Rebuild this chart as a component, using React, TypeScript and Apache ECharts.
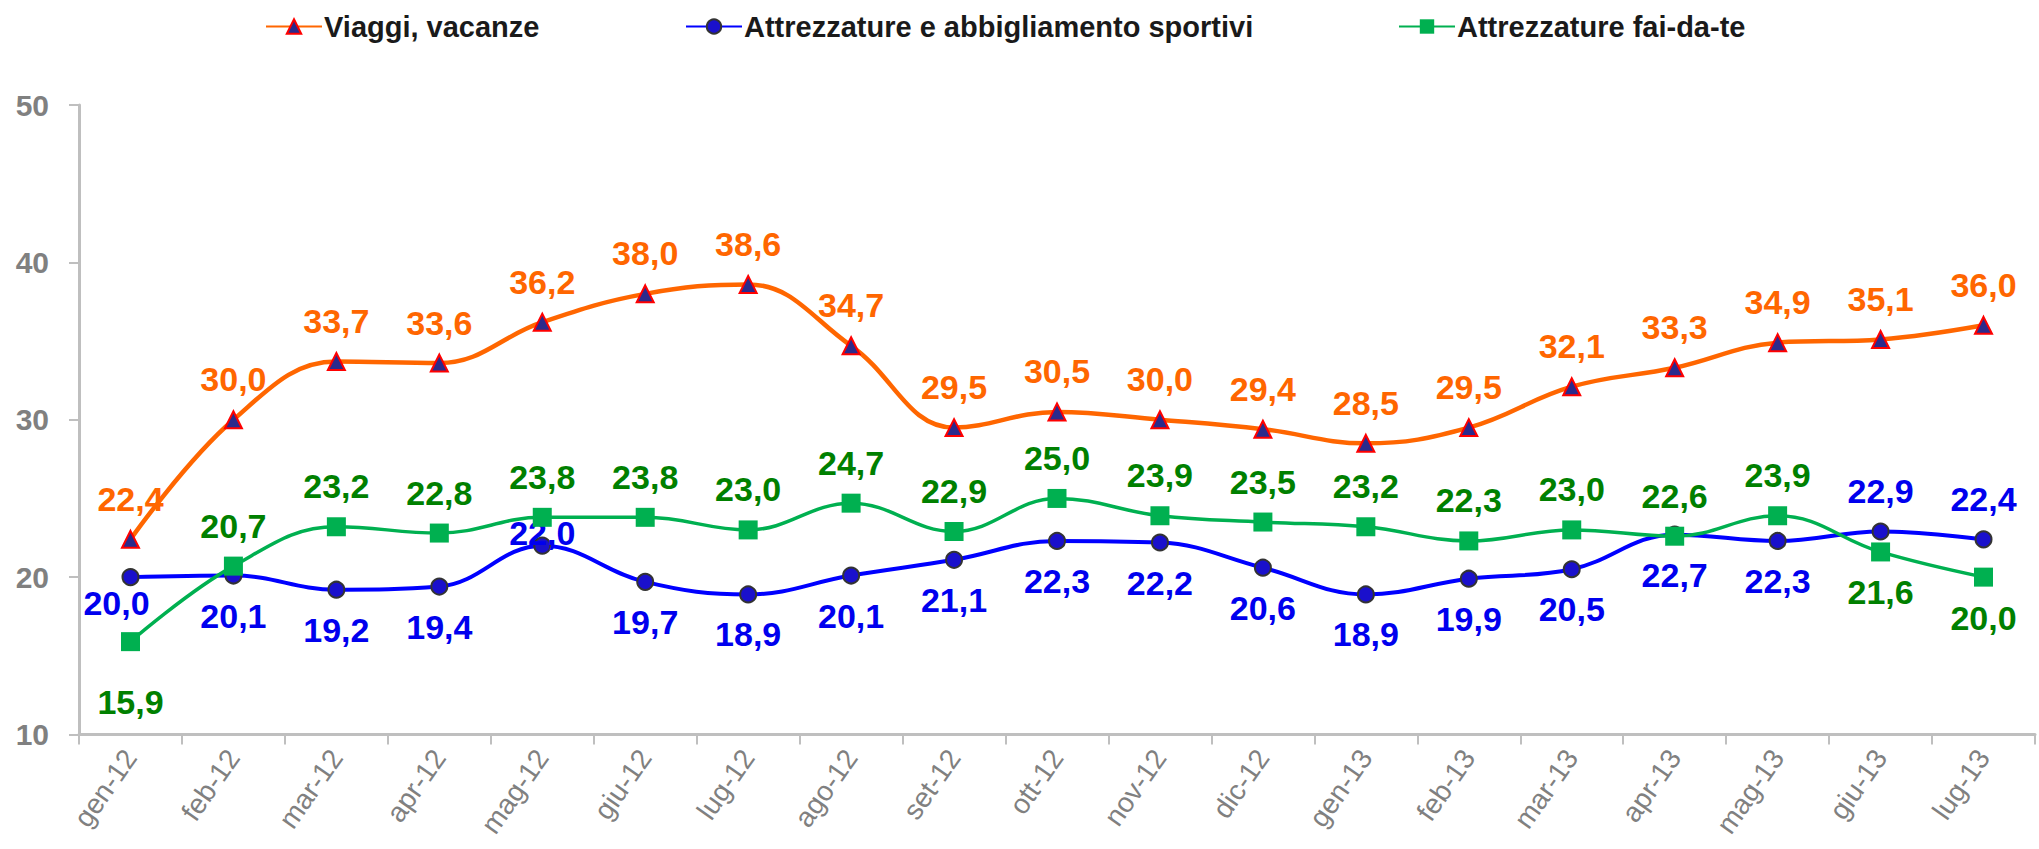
import React, { useEffect, useRef } from "react";
import * as echarts from "echarts";

const categories = [
  "gen-12", "feb-12", "mar-12", "apr-12", "mag-12", "giu-12", "lug-12", "ago-12", "set-12", "ott-12",
  "nov-12", "dic-12", "gen-13", "feb-13", "mar-13", "apr-13", "mag-13", "giu-13", "lug-13",
];
const viaggi = [22.4, 30.0, 33.7, 33.6, 36.2, 38.0, 38.6, 34.7, 29.5, 30.5, 30.0, 29.4, 28.5, 29.5, 32.1, 33.3, 34.9, 35.1, 36.0];
const sportivi = [20.0, 20.1, 19.2, 19.4, 22.0, 19.7, 18.9, 20.1, 21.1, 22.3, 22.2, 20.6, 18.9, 19.9, 20.5, 22.7, 22.3, 22.9, 22.4];
const faidate = [15.9, 20.7, 23.2, 22.8, 23.8, 23.8, 23.0, 24.7, 22.9, 25.0, 23.9, 23.5, 23.2, 22.3, 23.0, 22.6, 23.9, 21.6, 20.0];
const seriesNames = ["Viaggi, vacanze", "Attrezzature e abbigliamento sportivi", "Attrezzature fai-da-te"];

// label placement per point
const sportLabelPos = ["bottomNear", "bottom", "bottom", "bottom", "topNear", "bottom", "bottom", "bottom", "bottom", "bottom",
  "bottom", "bottom", "bottom", "bottom", "bottom", "bottom", "bottom", "top", "top"];
const faiLabelPos = ["bottomFar", "top", "top", "top", "top", "top", "top", "top", "top", "top",
  "top", "top", "top", "top", "top", "top", "top", "bottom", "bottom"];

const FONT = "'Liberation Sans', Arial, sans-serif";
const fmt = (v: number) => v.toFixed(1).replace(".", ",");

const placement = (p: string) => {
  switch (p) {
    case "topNear":
      return { position: "top", distance: -13 };
    case "bottomNear":
      return { position: "bottom", distance: 0, offset: [-14, 0] };
    case "bottomFar":
      return { position: "bottom", distance: 34, offset: [0, 0] };
    default:
      return { position: p };
  }
};

export default function App() {
  const ref = useRef<HTMLDivElement>(null);
  useEffect(() => {
    document.body.style.margin = "0";
    if (!ref.current) return;
    const chart = echarts.init(ref.current, undefined, { renderer: "svg" });

    const labelBase = {
      show: true,
      fontFamily: FONT,
      fontSize: 34,
      fontWeight: "bold" as const,
      distance: 14,
      formatter: (p: any) => fmt(p.value),
    };

    const legendBase = {
      top: 7,
      itemWidth: 56,
      itemHeight: 18,
      itemGap: 0,
      textStyle: { fontFamily: FONT, fontSize: 29, fontWeight: "bold" as const, color: "#1a1a1a", padding: [0, 0, 0, -3] },
    };

    chart.setOption({
      animation: false,
      backgroundColor: "#ffffff",
      legend: [
        { ...legendBase, left: 260, data: [seriesNames[0]] },
        { ...legendBase, left: 680, data: [seriesNames[1]] },
        { ...legendBase, left: 1393, data: [seriesNames[2]] },
      ],
      grid: { left: 79, right: 4, top: 105, bottom: 114.5, containLabel: false, outerBoundsMode: "none" },
      xAxis: {
        type: "category",
        data: categories,
        boundaryGap: true,
        axisLine: { show: true, lineStyle: { color: "#BFBFBF", width: 3 } },
        axisTick: { show: true, length: 10, lineStyle: { color: "#BFBFBF", width: 2 } },
        axisLabel: {
          rotate: 55,
          margin: 18,
          fontFamily: FONT,
          fontSize: 28,
          color: "#808080",
          interval: 0,
        },
        splitLine: { show: false },
      },
      yAxis: {
        type: "value",
        min: 10,
        max: 50,
        interval: 10,
        axisLine: { show: true, lineStyle: { color: "#BFBFBF", width: 3 } },
        axisTick: { show: true, length: 10, lineStyle: { color: "#BFBFBF", width: 2 } },
        axisLabel: { margin: 30, fontFamily: FONT, fontSize: 30, fontWeight: "bold", color: "#808080" },
        splitLine: { show: false },
      },
      series: [
        {
          name: seriesNames[0],
          type: "line",
          smooth: 0.4,
          data: viaggi,
          symbol: "triangle",
          symbolSize: 17,
          itemStyle: { color: "#2B2A8C", borderColor: "#FF0000", borderWidth: 2 },
          lineStyle: { color: "#FF6600", width: 4.5 },
          label: { ...labelBase, position: "top", color: "#FF6600" },
          z: 2,
        },
        {
          name: seriesNames[1],
          type: "line",
          smooth: 0.4,
          data: sportivi.map((v, i) => ({ value: v, label: placement(sportLabelPos[i]) })),
          symbol: "circle",
          symbolSize: 16,
          itemStyle: { color: "#1A10CC", borderColor: "#333333", borderWidth: 2 },
          lineStyle: { color: "#0000FF", width: 4 },
          label: { ...labelBase, color: "#0000EE" },
          z: 3,
        },
        {
          name: seriesNames[2],
          type: "line",
          smooth: 0.4,
          data: faidate.map((v, i) => ({ value: v, label: placement(faiLabelPos[i]) })),
          symbol: "rect",
          symbolSize: 19,
          itemStyle: { color: "#00B050", borderWidth: 0 },
          lineStyle: { color: "#00B050", width: 3.5 },
          label: { ...labelBase, color: "#008000" },
          z: 4,
        },
      ],
    });
    return () => chart.dispose();
  }, []);
  return <div ref={ref} style={{ width: 2039, height: 849 }} />;
}
